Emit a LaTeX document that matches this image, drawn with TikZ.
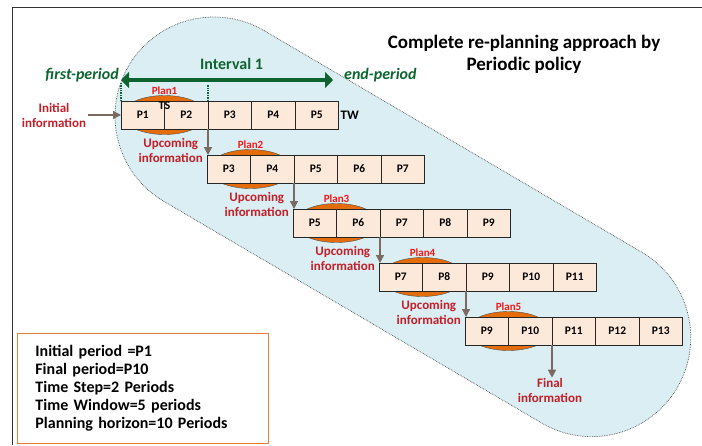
\documentclass[tikz,border=0pt]{standalone}
\usepackage{fontspec}
\setmainfont{Carlito}
\usetikzlibrary{arrows.meta, shapes.geometric, positioning}
\definecolor{capsulefill}{RGB}{218,238,243}
\definecolor{cellfill}{RGB}{253,233,217}
\definecolor{planorange}{RGB}{228,108,10}
\definecolor{boxorange}{RGB}{237,125,49}
\definecolor{infored}{RGB}{196,30,40}
\definecolor{planred}{RGB}{250,20,20}
\definecolor{darkgreen}{RGB}{14,100,48}
\definecolor{arrowgray}{RGB}{122,106,98}

\begin{document}
\begin{tikzpicture}[x=1pt, y=-1pt,
  cell/.style={draw=black!85, fill=cellfill, minimum width=43.5pt, minimum height=28pt, inner sep=0pt, outer sep=0pt, font=\fontsize{11.5}{12}\selectfont\bfseries},
  plan/.style={ellipse, draw=black!70, fill=planorange, minimum width=84pt, minimum height=39pt, inner sep=0pt},
  planlbl/.style={text=planred, font=\fontsize{11}{12}\selectfont\bfseries, inner sep=1pt},
  infolbl/.style={text=infored, align=center, font=\fontsize{13}{15}\selectfont\bfseries, inner sep=0pt},
  infoarrow/.style={draw=arrowgray, line width=1.3pt, -{Triangle[length=8pt,width=8pt]}},
  period/.style={text=darkgreen, inner sep=0pt, font=\fontsize{16}{18}\selectfont\bfseries\itshape},
  periodmark/.style={draw=darkgreen, densely dotted, line width=1.4pt}]
\useasboundingbox (0,0) rectangle (702,445);

\begin{scope}[shift={(214,116)}, rotate=-30.4]
\draw[densely dotted, black!70, line width=0.7pt, fill=capsulefill] (0,-99) -- (438,-99) arc[start angle=-90, end angle=90, radius=99] -- (0,99) arc[start angle=90, end angle=270, radius=99] -- cycle;
\end{scope}

\draw[black!80, line width=1pt] (12,445) -- (12,7) -- (702,7);

\foreach \r in {1,...,5} {
  \pgfmathsetmacro{\xo}{121+86*(\r-1)}
  \pgfmathsetmacro{\yo}{115+54*(\r-1)}
  \node[plan] (plan-\r) at (\xo+43.5, \yo) {};
  \foreach \c in {1,...,5} {
    \pgfmathtruncatemacro{\p}{2*(\r-1)+\c}
    \node[cell] (c-\r-\c) at (\xo+43.5*\c-21.75, \yo) {P\p};
  }
  \node[planlbl, anchor=south] (plan-\r-lbl) at (plan-\r.north) {Plan\r};
}

\node[font=\fontsize{12}{13}\selectfont\bfseries, inner sep=0pt] (ts) at ([yshift=-5pt]c-1-1.north east) {TS};
\node[font=\fontsize{13}{14}\selectfont\bfseries, anchor=west, inner sep=2pt] (tw) at (c-1-5.east) {TW};

\node[period, anchor=east] (first) at (119,75) {first-period};
\node[period, anchor=west] (endp) at (344,75) {end-period};
\draw[darkgreen, line width=4.5pt, {Triangle[length=8pt,width=16pt]}-{Triangle[length=8pt,width=16pt]}, shorten <=2pt, shorten >=11pt] ([yshift=-5pt]first.east) -- ([yshift=-5pt]endp.west) node[midway, above=5pt, text=darkgreen, font=\fontsize{16}{18}\selectfont\bfseries] (interval) {Interval 1};
\draw[periodmark] (c-1-1.north west) -- ++(0,-19);
\draw[periodmark] (c-1-2.north east) -- ++(0,-16);

\node[infolbl] (init) at (54,115) {Initial\\information};
\draw[infoarrow, shorten <=2pt] (init.east) -- (c-1-1.west);

\foreach \r in {1,...,4} {
  \pgfmathtruncatemacro{\s}{\r+1}
  \draw[infoarrow] (c-\r-2.south east) -- (c-\r-2.south east |- c-\s-1.north);
  \node[infolbl, anchor=east] (up-\r) at ([xshift=-4pt, yshift=5pt]c-\s-1.north west) {Upcoming\\information};
}

\node[infolbl] (fin) at (550,390) {Final\\information};
\draw[infoarrow] (c-5-2.south east) -- (c-5-2.south east |- fin.north);

\node[font=\fontsize{19}{22}\selectfont\bfseries, align=center] (title) at (524,54) {Complete re-planning approach by\\Periodic policy};

\node[draw=boxorange, line width=0.8pt, anchor=north west, minimum width=251pt, minimum height=110pt, text width=215pt, inner xsep=18pt, align=left, font=\fontsize{16}{18}\selectfont\bfseries] (facts) at (17,333) {Initial period =P1\\Final period=P10\\Time Step=2 Periods\\Time Window=5 periods\\Planning horizon=10 Periods};
\end{tikzpicture}
\end{document}
